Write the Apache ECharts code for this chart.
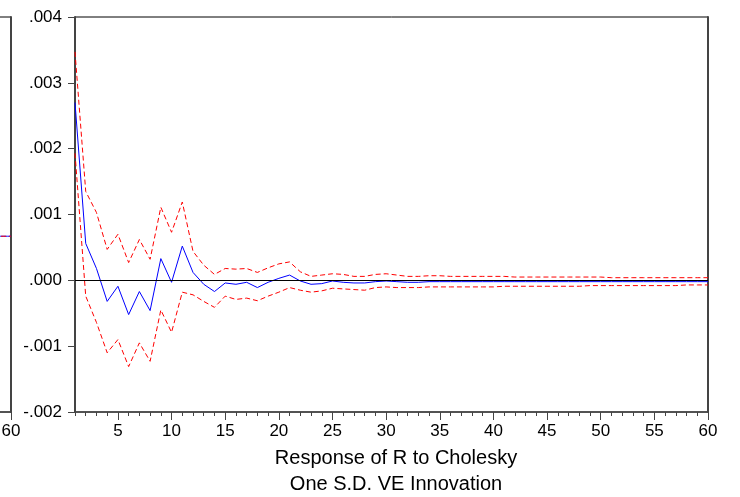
<!DOCTYPE html>
<html>
<head>
<meta charset="utf-8">
<script src="https://cdn.jsdelivr.net/npm/echarts@6/dist/echarts.min.js"></script>
<style>
html,body{margin:0;padding:0;background:#fff;}
#chart{width:740px;height:497px;}
</style>
</head>
<body>
<div id="chart"></div>
<script>
const periods = [];
for (let i = 1; i <= 60; i++) periods.push(String(i));

const response = [
  0.00270, 0.00056, 0.00018, -0.00032, -0.00009, -0.00052, -0.00017, -0.00046, 0.00033, -0.00003,
  0.00052, 0.00012, -0.00006, -0.00017, -0.00004, -0.00006, -0.00003, -0.00011, -0.00003, 0.00003,
  0.00008, -0.00001, -0.00006, -0.00005, -0.00001, -0.00003, -0.00004, -0.00004, -0.00002, -0.00001,
  -0.00002, -0.00003, -0.00003, -0.00002, -0.00002, -0.00002, -0.00002, -0.00002, -0.00002, -0.00002,
  -0.00002, -0.00002, -0.00002, -0.00002, -0.00002, -0.00002, -0.00002, -0.00002, -0.00002, -0.00002,
  -0.00002, -0.00002, -0.00002, -0.00002, -0.00002, -0.00002, -0.00002, -0.00002, -0.00002, -0.00002
];
const upperBand = [
  0.00347, 0.00135, 0.00103, 0.00047, 0.00070, 0.00027, 0.00062, 0.00032, 0.00111, 0.00073,
  0.00119, 0.00044, 0.00023, 0.00009, 0.00018, 0.00017, 0.00018, 0.00012, 0.00019, 0.00025,
  0.00028, 0.00013, 0.00006, 0.00008, 0.00010, 0.00009, 0.00006, 0.00006, 0.00009, 0.00010,
  0.00008, 0.00006, 0.00006, 0.00007, 0.00007, 0.00006, 0.00006, 0.00006, 0.00006, 0.00006,
  0.00006, 0.00005, 0.00005, 0.00005, 0.00005, 0.00005, 0.00005, 0.00005, 0.00005, 0.00005,
  0.00004, 0.00004, 0.00004, 0.00004, 0.00004, 0.00004, 0.00004, 0.00004, 0.00004, 0.00004
];
const lowerBand = [
  0.00193, -0.00024, -0.00064, -0.00110, -0.00090, -0.00131, -0.00095, -0.00123, -0.00045, -0.00079,
  -0.00018, -0.00022, -0.00032, -0.00041, -0.00024, -0.00029, -0.00027, -0.00031, -0.00024, -0.00018,
  -0.00011, -0.00015, -0.00018, -0.00016, -0.00012, -0.00013, -0.00014, -0.00015, -0.00011, -0.00010,
  -0.00011, -0.00011, -0.00011, -0.00010, -0.00010, -0.00010, -0.00010, -0.00010, -0.00010, -0.00010,
  -0.00009, -0.00009, -0.00009, -0.00009, -0.00009, -0.00009, -0.00009, -0.00009, -0.00008, -0.00008,
  -0.00008, -0.00008, -0.00008, -0.00008, -0.00008, -0.00008, -0.00008, -0.00007, -0.00007, -0.00007
];
// tail of the neighbouring (cut-off) panel, periods 55..60
const leftPanelTail = [0.00067, 0.00067, 0.00067, 0.00067, 0.00067, 0.00067];
const yTicks = { min: -0.002, max: 0.004, step: 0.001 };
const titleLines = ['Response of R to Cholesky', 'One S.D. VE Innovation'];

const FONT = "'Liberation Sans', Arial, sans-serif";
const leftData = periods.map((p, i) => (i >= 54 ? leftPanelTail[i - 54] : null));

const fmtY = v => {
  const s = Number(v).toFixed(3);
  return s.replace(/^(-?)0\./, '$1.');
};

const chart = echarts.init(document.getElementById('chart'), null, { renderer: 'canvas' });
chart.setOption({
  animation: false,
  backgroundColor: '#ffffff',
  grid: [
    { left: 75, right: 32, top: 17, bottom: 85, show: true, borderColor: '#000', borderWidth: 1, backgroundColor: 'transparent', containLabel: false, outerBoundsMode: 'none' },
    { left: -200, width: 211, top: 17, bottom: 85, show: true, borderColor: '#000', borderWidth: 1, backgroundColor: 'transparent', containLabel: false, outerBoundsMode: 'none' }
  ],
  xAxis: [
    {
      gridIndex: 0, type: 'category', data: periods, boundaryGap: false,
      axisLine: { onZero: false, lineStyle: { color: '#444', width: 1.5 } },
      axisTick: { length: 8, interval: (i) => (i + 1) % 5 === 0, lineStyle: { color: '#444' } },
      axisLabel: { interval: (i) => (i + 1) % 5 === 0, color: '#000', fontFamily: FONT, fontSize: 17, margin: 11 },
      splitLine: { show: false }
    },
    {
      gridIndex: 0, type: 'category', data: periods, boundaryGap: false, position: 'bottom',
      axisLine: { show: false, onZero: false },
      axisTick: { length: 4, interval: 0, lineStyle: { color: '#444' } },
      axisLabel: { show: false },
      splitLine: { show: false }
    },
    {
      gridIndex: 1, type: 'category', data: periods, boundaryGap: false,
      axisLine: { onZero: false, lineStyle: { color: '#444', width: 1.5 } },
      axisTick: { length: 8, interval: (i) => i === 59, lineStyle: { color: '#444' } },
      axisLabel: { interval: (i) => i === 59, color: '#000', fontFamily: FONT, fontSize: 17, margin: 11 },
      splitLine: { show: false }
    }
  ],
  yAxis: [
    {
      gridIndex: 0, type: 'value', min: yTicks.min, max: yTicks.max, interval: yTicks.step,
      axisLine: { show: true, onZero: false, lineStyle: { color: '#444', width: 2 } },
      axisTick: { show: true, length: 7, lineStyle: { color: '#444' } },
      axisLabel: { formatter: fmtY, color: '#000', fontFamily: FONT, fontSize: 17, margin: 13 },
      splitLine: { show: false }
    },
    {
      gridIndex: 0, type: 'value', position: 'right', min: yTicks.min, max: yTicks.max, interval: yTicks.step,
      axisLine: { show: true, onZero: false, lineStyle: { color: '#444', width: 2 } },
      axisTick: { show: false }, axisLabel: { show: false }, splitLine: { show: false }
    },
    {
      gridIndex: 1, type: 'value', position: 'right', min: yTicks.min, max: yTicks.max, interval: yTicks.step,
      axisLine: { show: true, onZero: false, lineStyle: { color: '#444', width: 2 } },
      axisTick: { show: false }, axisLabel: { show: false }, splitLine: { show: false }
    }
  ],
  series: [
    {
      name: 'zero', type: 'line', xAxisIndex: 0, yAxisIndex: 0, data: [], silent: true,
      markLine: {
        silent: true, symbol: 'none', label: { show: false },
        lineStyle: { color: '#000', width: 1, type: 'solid' },
        data: [{ yAxis: 0 }]
      }
    },
    {
      name: 'Response', type: 'line', xAxisIndex: 0, yAxisIndex: 0, data: response,
      showSymbol: false, symbol: 'none', lineStyle: { color: '#0000ff', width: 1 }, z: 3
    },
    {
      name: 'Upper', type: 'line', xAxisIndex: 0, yAxisIndex: 0, data: upperBand,
      showSymbol: false, symbol: 'none', lineStyle: { color: '#ff0000', width: 1, type: [5, 3] }, z: 4
    },
    {
      name: 'Lower', type: 'line', xAxisIndex: 0, yAxisIndex: 0, data: lowerBand,
      showSymbol: false, symbol: 'none', lineStyle: { color: '#ff0000', width: 1, type: [5, 3] }, z: 4
    },
    {
      name: 'LeftResp', type: 'line', xAxisIndex: 2, yAxisIndex: 2, data: leftData,
      showSymbol: false, symbol: 'none', lineStyle: { color: '#0000ff', width: 1 }
    },
    {
      name: 'LeftBand', type: 'line', xAxisIndex: 2, yAxisIndex: 2, data: leftData,
      showSymbol: false, symbol: 'none', lineStyle: { color: '#ff0000', width: 1, type: [5, 3] }
    }
  ],
  graphic: [
    { type: 'text', x: 396, y: 458, style: { text: titleLines[0], fill: '#000', font: '20px ' + FONT, textAlign: 'center', textVerticalAlign: 'middle' } },
    { type: 'text', x: 396, y: 484, style: { text: titleLines[1], fill: '#000', font: '20px ' + FONT, textAlign: 'center', textVerticalAlign: 'middle' } }
  ]
});
</script>
</body>
</html>
